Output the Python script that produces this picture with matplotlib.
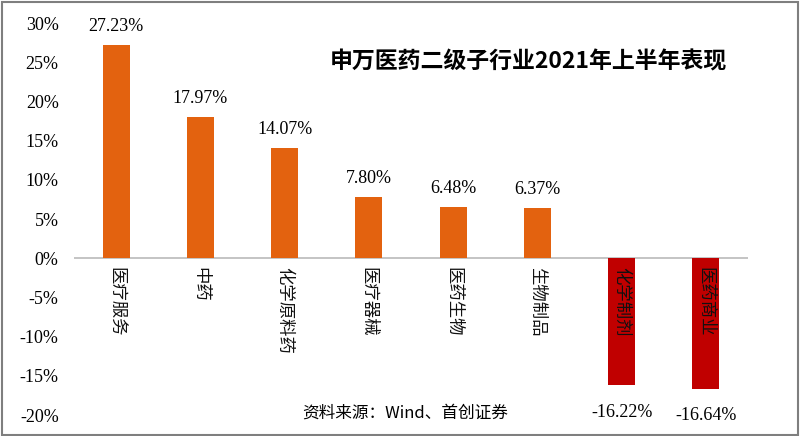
import matplotlib.pyplot as plt
from matplotlib.patches import Rectangle

plt.rcParams['font.family'] = ['Noto Sans CJK SC', 'DejaVu Sans']

categories = ['医疗服务', '中药', '化学原料药', '医疗器械', '医药生物', '生物制品', '化学制剂', '医药商业']
values = [27.23, 17.97, 14.07, 7.80, 6.48, 6.37, -16.22, -16.64]
yticks = [-20, -15, -10, -5, 0, 5, 10, 15, 20, 25, 30]

orange = '#E3620F'
red = '#C00000'
colors = [orange if v > 0 else red for v in values]

fig = plt.figure(figsize=(8, 4.36), dpi=100)
ax = fig.add_axes([0.0925, 0.048, 0.8425, 0.899])

x = range(len(categories))
ax.bar(x, values, width=0.32, color=colors, zorder=2)
ax.axhline(0, color='#BFBFBF', lw=1.3, zorder=1)

ax.set_xlim(-0.5, len(categories) - 0.5)
ax.set_ylim(-20, 30)
ax.set_yticks(yticks)
ax.set_yticklabels([f'{t}%' for t in yticks], family=['Liberation Serif'], fontsize=13)
ax.set_xticks([])
ax.tick_params(axis='y', length=0, pad=11)
for s in ax.spines.values():
    s.set_visible(False)

for i, (c, v) in enumerate(zip(categories, values)):
    ax.text(i, -1.1, c, rotation=-90, ha='center', va='top', fontsize=12.5,
            color='#111111', zorder=3)
    if v > 0:
        ax.text(i, v + 1.3, f'{v:.2f}%', ha='center', va='bottom',
                family=['Liberation Serif'], fontsize=13)
    else:
        ax.text(i, v - 3.4, f'{v:.2f}%', ha='center', va='center',
                family=['Liberation Serif'], fontsize=13)

fig.text(0.66, 0.858, '申万医药二级子行业2021年上半年表现', ha='center', va='center',
         fontsize=16.5, fontweight='bold')
fig.text(0.506, 0.052, '资料来源：Wind、首创证券', ha='center', va='center',
         fontsize=12, style='italic')

fig.patches.append(Rectangle((0.002, 0.003), 0.995, 0.993, transform=fig.transFigure,
                             fill=False, edgecolor='#7F7F7F', lw=1.5))

fig.savefig('out.png', dpi=100)
